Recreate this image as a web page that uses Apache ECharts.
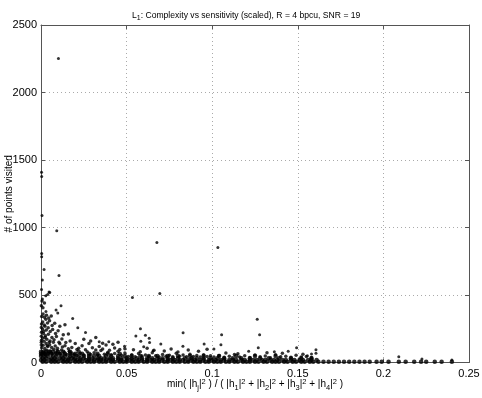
<!DOCTYPE html>
<html>
<head>
<meta charset="utf-8">
<script src="https://cdn.jsdelivr.net/npm/echarts@6/dist/echarts.min.js"></script>
<style>
  html, body { margin: 0; padding: 0; background: #fff; }
  #chart { width: 482px; height: 398px; }
</style>
</head>
<body>
<div id="chart"></div>
<script>
// x values are in thousandths (0.001), y values are "# of points visited"
const xTicks = [0, 0.05, 0.1, 0.15, 0.2, 0.25];
const yTicks = [0, 500, 1000, 1500, 2000, 2500];

// dense bottom band, one list of x per row
const bandY = [6, 18, 32, 48, 64, 80];
const bandX = [
  [1,3,6,8,10,13,15,17,20,22,24,27,29,31,34,36,38,41,43,46,48,50,53,55,57,60,62,65,67,69,72,74,77,79,81,84,86,89,91,93,96,98,101,103,105,108,110,113,115,118,120,122,125,127,130,132,135,137,139,142,144,147,149,152,154,157,159,162,165,168,171,174,177,180,183,186,189,192,196,199,203,209,213,218,222,225,230,234,240],
  [0,2,5,7,9,12,14,16,19,21,23,26,28,31,33,35,38,40,42,45,47,50,52,54,57,59,62,64,66,69,71,74,76,78,81,83,86,88,90,93,95,98,100,102,105,107,110,112,114,117,119,122,124,126,129,131,134,136,138,141,143,146,148,151,153,156,158,161],
  [1,3,6,8,11,13,16,18,20,23,25,28,30,33,35,37,40,42,45,47,50,53,56,59,62,65,68,71,74,77,80,84,88,91,95,99,103,107,112,117,122,128,133,139,146,152,158],
  [0,2,4,7,9,12,14,17,19,22,25,28,31,34,38,41,45,49,53,58,63,68,74,80,87,95,104,114,125,137],
  [0,2,4,6,9,11,14,17,20,24,28,33,39,46],
  [0,1.5,3,5,7,10,13,17,22]
];

// scattered points above the band
const cloudNear = [
  [0.5,62],[1.5,75],[2.5,58],[3.5,90],[4.5,70],[5.5,85],[6.5,64],[7.5,98],[8.5,72],[9.5,88],[11,67],[12,93],[13.5,76],[15,60],[16.5,84],[18,70],[19.5,62],
  [0.4,110],[1.2,128],[2.2,104],[3,140],[4,118],[5,132],[6.2,112],[7.2,150],[8.3,122],[9.6,106],[11,138],[12.5,115],[14,125],[16,102],[18,112],[21,96],
  [0.3,165],[1,182],[1.8,158],[2.6,198],[3.4,172],[4.3,210],[5.3,160],[6.4,185],[7.6,168],[9,192],[10.5,150],[12.2,175],[14.5,148],[17,160],[20,140],
  [0.3,225],[0.9,248],[1.6,232],[2.3,268],[3.1,240],[4.2,258],[5.4,230],[6.8,245],[8.5,215],[10,235],[13,205],[16,212],
  [0.3,285],[1,300],[1.9,278],[2.8,320],[3.8,292],[5,310],[6.5,275],[8,290],[11,268],[14,280],
  [0.4,340],[1.2,360],[2,335],[3.2,350],[4.5,330],[6,345],
  [0.2,420],[1.1,405],[0.6,455],[2,440],
  [0.2,130],[0.2,150],[0.2,195],[0.2,260],[1.4,215],[2.4,185],[3.6,124],[4.8,150]
];
const cloudMid = [
  [21,52],[23,68],[25,56],[27,80],[29,60],[31,72],[33,55],[35,88],[37,62],[39,74],[41,57],[43,66],[45,84],[47,54],[49,70],
  [22,105],[24,125],[26,95],[28,140],[30,110],[32,92],[34,118],[36,100],[38,130],[40,90],[43,108],[46,96],[49,102],
  [25,172],[29,160],[32,185],[36,142],[42,135],[45,150],
  [51,45],[53,58],[55,42],[57,66],[59,48],[61,55],[63,44],[65,72],[67,50],[69,40],[71,60],[73,46],[75,54],[77,42],[79,68],[81,47],[83,56],[85,43],[87,62],[89,45],[91,52],[93,41],[95,58],[97,44],[99,50],
  [54,95],[58,80],[62,105],[66,90],[72,85],[76,100],[80,78],[86,92],[92,84],[97,98]
];
const cloudFar = [
  [101,40],[104,52],[107,38],[110,46],[113,60],[116,41],[119,50],[122,37],[125,55],[128,43],[131,48],[134,36],[137,58],[140,42],[143,47],[146,38],[149,54],[152,40],[155,45],[158,37],
  [108,70],[115,65],[132,72],[141,68],[153,62]
];
const outliers = [
  [10.2,2252],[0.3,1409],[0.4,1378],[0.6,1089],[9.2,976],[0.4,808],[0.4,783],[1.8,688],[10.5,645],[0.8,612],[4.7,522],[2.8,495],[0.3,540],[0.8,470],
  [3.9,504],[5.1,518],[2.9,378],[8.8,388],[11.7,420],[9.8,366],[18.5,326],[21.5,257],[26,223],[34,154],[39.6,154],
  [53.4,481],[67.7,888],[69.4,511],[103.3,851],[58.1,250],[55.4,196],[61,201],[63.2,179],[83,220],[58.3,157],[63.4,149],[70,137],[60,117],[82.9,120],[95.3,137],[65.5,87],[48.8,120],
  [126.3,321],[127.7,205],[105.5,205],[105.1,132],[126.9,109],[149.3,109],[101,100],[136.3,80],[144.4,83],[121.3,83],
  [160.6,95],[158,63],[160.6,68],[155.6,50],[209,43],[222.5,26],[240,18]
];

const toData = function (p) { return [p[0] / 1000, p[1]]; };
let bandPts = [];
bandY.forEach(function (y, i) {
  bandX[i].forEach(function (x) { bandPts.push([x / 1000, y]); });
});
const cloudPts = cloudNear.concat(cloudMid, cloudFar).map(toData);
const outlierPts = outliers.map(toData);

const chart = echarts.init(document.getElementById('chart'));
const font = '"Liberation Sans", Arial, Helvetica, sans-serif';
const axisColor = '#555';
const subStyle = { fontSize: 7.5, fontFamily: font, color: '#000', fontWeight: 'normal', padding: [6, 0, 0, 0] };
const supStyle = { fontSize: 7.5, fontFamily: font, color: '#000', fontWeight: 'normal', padding: [0, 0, 6, 0] };
const nameStyle = { fontSize: 10, fontFamily: font, color: '#000', fontWeight: 'normal' };
const titleStyle = { fontSize: 8.6, fontFamily: font, color: '#000', fontWeight: 'normal' };

const xBase = {
  type: 'value', min: 0, max: 0.25, interval: 0.05,
  axisLine: { show: true, onZero: false, lineStyle: { color: axisColor } },
  axisTick: { show: true, inside: true, length: 4, lineStyle: { color: axisColor } },
  splitLine: { show: false }
};
const yBase = {
  type: 'value', min: 0, max: 2500, interval: 500,
  axisLine: { show: true, onZero: false, lineStyle: { color: axisColor } },
  axisTick: { show: true, inside: true, length: 4, lineStyle: { color: axisColor } },
  splitLine: { show: false }
};

const option = {
  animation: false,
  backgroundColor: '#fff',
  title: {
    text: '{t|L}{sub|1}{t|: Complexity vs sensitivity (scaled), R = 4 bpcu, SNR = 19}',
    left: 127,
    top: 4,
    textStyle: {
      fontWeight: 'normal',
      rich: { t: titleStyle, sub: Object.assign({}, subStyle, { fontSize: 7 }) }
    }
  },
  grid: { left: 41, right: 13, top: 25, bottom: 35.5, outerBoundsMode: 'none', containLabel: false },
  xAxis: [
    Object.assign({}, xBase, {
      position: 'bottom',
      axisLabel: { color: '#000', fontSize: 11, fontFamily: font, margin: 6,
        formatter: function (v) { return String(parseFloat(v.toFixed(2))); } },
      splitLine: { show: true, lineStyle: { color: '#aaa', type: [1, 3] } },
      name: '{t|min( |h}{sub|j}{t||}{sup|2}{t| ) / ( |h}{sub|1}{t||}{sup|2}{t| + |h}{sub|2}{t||}{sup|2}{t| + |h}{sub|3}{t||}{sup|2}{t| + |h}{sub|4}{t||}{sup|2}{t| )}',
      nameLocation: 'middle',
      nameGap: 15,
      nameMoveOverlap: false,
      nameTextStyle: { rich: { t: nameStyle, sub: subStyle, sup: supStyle } }
    }),
    Object.assign({}, xBase, { position: 'top', axisLabel: { show: false } })
  ],
  yAxis: [
    Object.assign({}, yBase, {
      position: 'left',
      axisLabel: { color: '#000', fontSize: 11, fontFamily: font, margin: 4,
        formatter: function (v) { return String(v); } },
      splitLine: { show: true, lineStyle: { color: '#aaa', type: [1, 3] } },
      name: '# of points visited',
      nameLocation: 'middle',
      nameGap: 27,
      nameMoveOverlap: false,
      nameTextStyle: { fontSize: 10, fontFamily: font, color: '#000' }
    }),
    Object.assign({}, yBase, { position: 'right', axisLabel: { show: false } })
  ],
  series: [
    { type: 'scatter', silent: true, data: bandPts, symbolSize: 4.5, itemStyle: { color: '#000' } },
    { type: 'scatter', silent: true, data: cloudPts, symbolSize: 3.5, itemStyle: { color: '#000' } },
    { type: 'scatter', silent: true, data: outlierPts, symbolSize: 3, itemStyle: { color: '#000' } }
  ]
};
chart.setOption(option);
</script>
</body>
</html>
